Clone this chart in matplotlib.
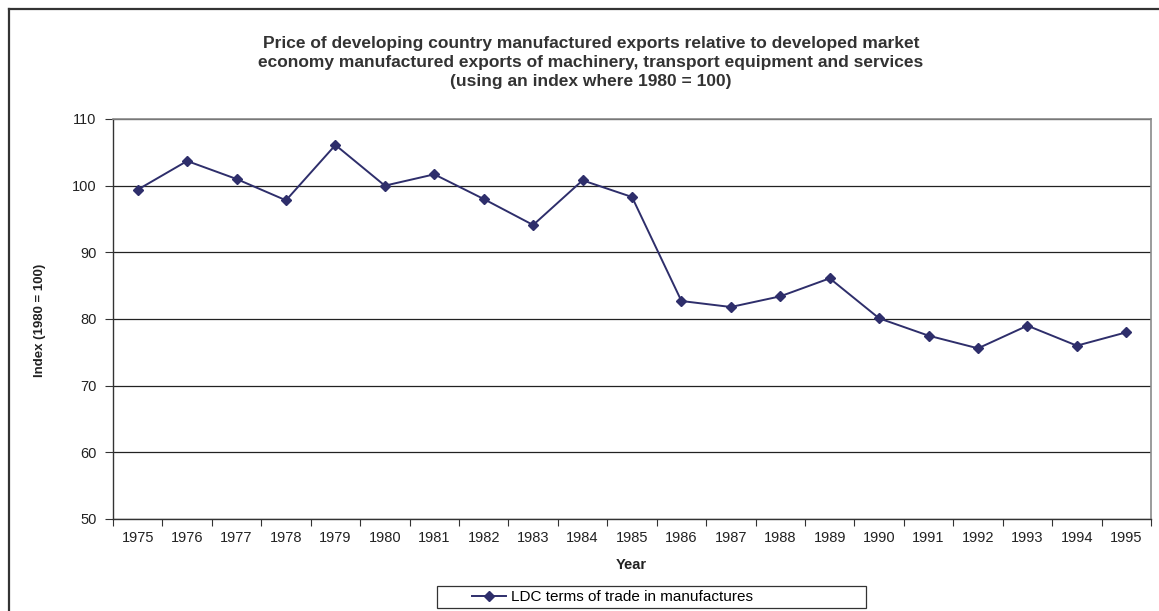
import numpy as np
import matplotlib.pyplot as plt
from matplotlib.lines import Line2D
from matplotlib.patches import Rectangle

# Data
years = [str(y) for y in range(1975, 1996)]
index_values = [99.4, 103.7, 101.0, 97.8, 106.1, 100.0, 101.7, 98.0, 94.1, 100.8,
                98.3, 82.7, 81.8, 83.4, 86.1, 80.1, 77.5, 75.6, 79.0, 76.0, 78.0]
y_ticks = [50, 60, 70, 80, 90, 100, 110]

title = ('Price of developing country manufactured exports relative to developed market\n'
         'economy manufactured exports of machinery, transport equipment and services\n'
         '(using an index where 1980 = 100)')
series_label = 'LDC terms of trade in manufactures'

plt.rcParams['font.family'] = ['Liberation Sans', 'DejaVu Sans']

W, H = 1159, 611
fig = plt.figure(figsize=(W / 100, H / 100), dpi=100)
ax = fig.add_axes([113 / W, 1 - 519 / H, (1151 - 113) / W, (519 - 119) / H])

line_color = '#2E2E6B'
x = np.arange(len(years))
ax.plot(x, index_values, color=line_color, lw=1.4, marker='D', markersize=5,
        markeredgecolor=line_color, markerfacecolor=line_color, label=series_label)

ax.set_xlim(-0.5, len(years) - 0.5)
ax.set_ylim(50, 110)
ax.set_yticks(y_ticks)
ax.set_yticklabels([str(v) for v in y_ticks], fontsize=10.5, color='#222222')
ax.yaxis.grid(True, color='#222222', lw=0.9)
ax.set_axisbelow(True)

# category boundaries as major ticks, labels on minor ticks
ax.set_xticks(np.arange(-0.5, len(years), 1.0))
ax.set_xticklabels([])
ax.set_xticks(x, minor=True)
ax.set_xticklabels(years, minor=True, fontsize=10.5, color='#222222')
ax.tick_params(axis='x', which='minor', length=0, pad=9)
ax.tick_params(axis='x', which='major', length=5, color='#333333')
ax.tick_params(axis='y', length=6, color='#333333', pad=6)

for side in ['top', 'right']:
    ax.spines[side].set_color('#8a8a8a')
    ax.spines[side].set_linewidth(1.2)
for side in ['left', 'bottom']:
    ax.spines[side].set_color('#333333')
    ax.spines[side].set_linewidth(1.0)

fig.text(591 / W, 1 - 36 / H, title, ha='center', va='top', fontsize=12.5,
         fontweight='bold', color='#333333', linespacing=1.32)
fig.text(40 / W, 1 - 320 / H, 'Index (1980 = 100)', rotation=90, ha='center',
         va='center', fontsize=9.5, fontweight='bold', color='#222222')
fig.text(631 / W, 1 - 565 / H, 'Year', ha='center', va='center', fontsize=10.5,
         fontweight='bold', color='#222222')

leg = fig.legend(loc='center left', bbox_to_anchor=(472 / W, 1 - 597 / H), fontsize=11,
                 frameon=False, handlelength=2.2, borderpad=0, borderaxespad=0,
                 handletextpad=0.35)
# legend box
fig.add_artist(Rectangle((437 / W, 1 - 608 / H), 429 / W, 22 / H, transform=fig.transFigure,
                         fill=False, edgecolor='#333333', lw=0.9))

# outer chart frame
fig.add_artist(Line2D([9 / W, 9 / W], [1 - 9 / H, 0], color='#333333', lw=1.6))
fig.add_artist(Line2D([9 / W, 1], [1 - 9 / H, 1 - 9 / H], color='#333333', lw=1.6))

fig.savefig('out.png', dpi=100)
